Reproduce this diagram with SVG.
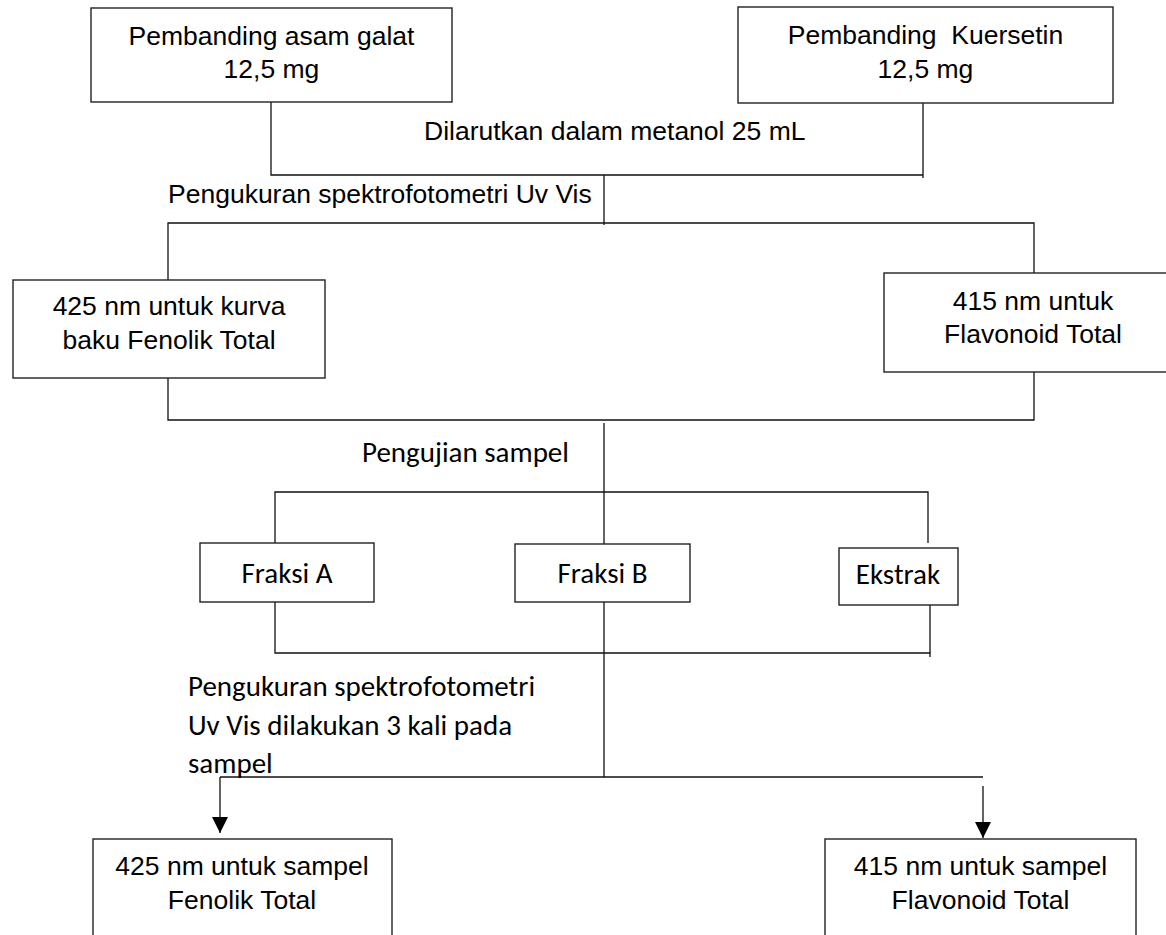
<svg xmlns="http://www.w3.org/2000/svg" width="1166" height="935" viewBox="0 0 1166 935">
  <style>
    .box { fill: #ffffff; stroke: #222222; stroke-width: 1.4; }
    .ln { fill: none; stroke: #111111; stroke-width: 1.3; }
    .a { font-family: "Liberation Sans", Arial, sans-serif; font-size: 26.5px; fill: #000000; }
    .c { font-family: Carlito, Lato, "Open Sans", sans-serif; font-size: 29px; fill: #000000; }
    .mid { text-anchor: middle; }
  </style>
  <defs>
    <!-- filled triangular head, tip at the end of the line -->
    <marker id="arrow" viewBox="0 0 16 16" refX="16" refY="8" markerWidth="16" markerHeight="16" markerUnits="userSpaceOnUse" orient="auto">
      <polygon points="0,0 16,8 0,16" fill="#000000"/>
    </marker>
  </defs>

  <rect width="1166" height="935" fill="#ffffff"/>

  <!-- connectors -->
  <g id="connectors">
    <!-- standards joined, dissolved in methanol -->
    <polyline class="ln" points="271,102 271,175 923,175"/>
    <line class="ln" x1="923" y1="103" x2="923" y2="178"/>
    <!-- split to the two wavelengths -->
    <line class="ln" x1="604" y1="175" x2="604" y2="225"/>
    <polyline class="ln" points="168,280 168,223 1034,223 1034,273"/>
    <!-- calibration curves joined -->
    <polyline class="ln" points="168,372 168,420 1034,420 1034,372"/>
    <!-- sample testing -->
    <line class="ln" x1="604" y1="423" x2="604" y2="544"/>
    <polyline class="ln" points="275,543 275,492 928,492 928,543"/>
    <!-- samples joined -->
    <polyline class="ln" points="275,602 275,653 930,653 930,657"/>
    <line class="ln" x1="930" y1="605" x2="930" y2="653"/>
    <line class="ln" x1="604" y1="602" x2="604" y2="777"/>
    <line class="ln" x1="220" y1="777" x2="983" y2="777"/>
    <line class="ln" x1="220" y1="777" x2="220" y2="833" marker-end="url(#arrow)"/>
    <line class="ln" x1="983" y1="786" x2="983" y2="838" marker-end="url(#arrow)"/>
  </g>

  <!-- connector labels -->
  <g id="labels">
    <text class="a" x="424" y="140">Dilarutkan dalam metanol 25 mL</text>
    <text class="a" x="168" y="203">Pengukuran spektrofotometri Uv Vis</text>
    <text class="c" x="362" y="462">Pengujian sampel</text>
    <text class="c" x="188" y="696">Pengukuran spektrofotometri</text>
    <text class="c" x="188" y="735">Uv Vis dilakukan 3 kali pada</text>
    <text class="c" x="188" y="773">sampel</text>
  </g>

  <g id="std-gallic">
    <rect class="box" x="91" y="8" width="361" height="94"/>
    <text class="a mid" x="271.5" y="45">Pembanding asam galat</text>
    <text class="a mid" x="271.5" y="78">12,5 mg</text>
  </g>

  <g id="std-quercetin">
    <rect class="box" x="738" y="7" width="375" height="96"/>
    <text class="a mid" x="925.5" y="44" xml:space="preserve">Pembanding  Kuersetin</text>
    <text class="a mid" x="925.5" y="78">12,5 mg</text>
  </g>

  <g id="curve-phenolic">
    <rect class="box" x="13" y="280" width="312" height="98"/>
    <text class="a mid" x="169" y="315">425 nm untuk kurva</text>
    <text class="a mid" x="169" y="349">baku Fenolik Total</text>
  </g>

  <g id="curve-flavonoid">
    <rect class="box" x="884" y="273" width="300" height="99"/>
    <text class="a mid" x="1033" y="310">415 nm untuk</text>
    <text class="a mid" x="1033" y="343">Flavonoid Total</text>
  </g>

  <g id="fraction-a">
    <rect class="box" x="200" y="543" width="174" height="59"/>
    <text class="c mid" x="287" y="583">Fraksi A</text>
  </g>

  <g id="fraction-b">
    <rect class="box" x="515" y="544" width="175" height="58"/>
    <text class="c mid" x="602.5" y="583">Fraksi B</text>
  </g>

  <g id="extract">
    <rect class="box" x="839" y="548" width="119" height="57"/>
    <text class="c mid" x="898" y="584">Ekstrak</text>
  </g>

  <g id="sample-phenolic">
    <rect class="box" x="93" y="839" width="299" height="110"/>
    <text class="a mid" x="242" y="875">425 nm untuk sampel</text>
    <text class="a mid" x="242" y="909">Fenolik Total</text>
  </g>

  <g id="sample-flavonoid">
    <rect class="box" x="825" y="839" width="311" height="110"/>
    <text class="a mid" x="980.5" y="875">415 nm untuk sampel</text>
    <text class="a mid" x="980.5" y="909">Flavonoid Total</text>
  </g>
</svg>
